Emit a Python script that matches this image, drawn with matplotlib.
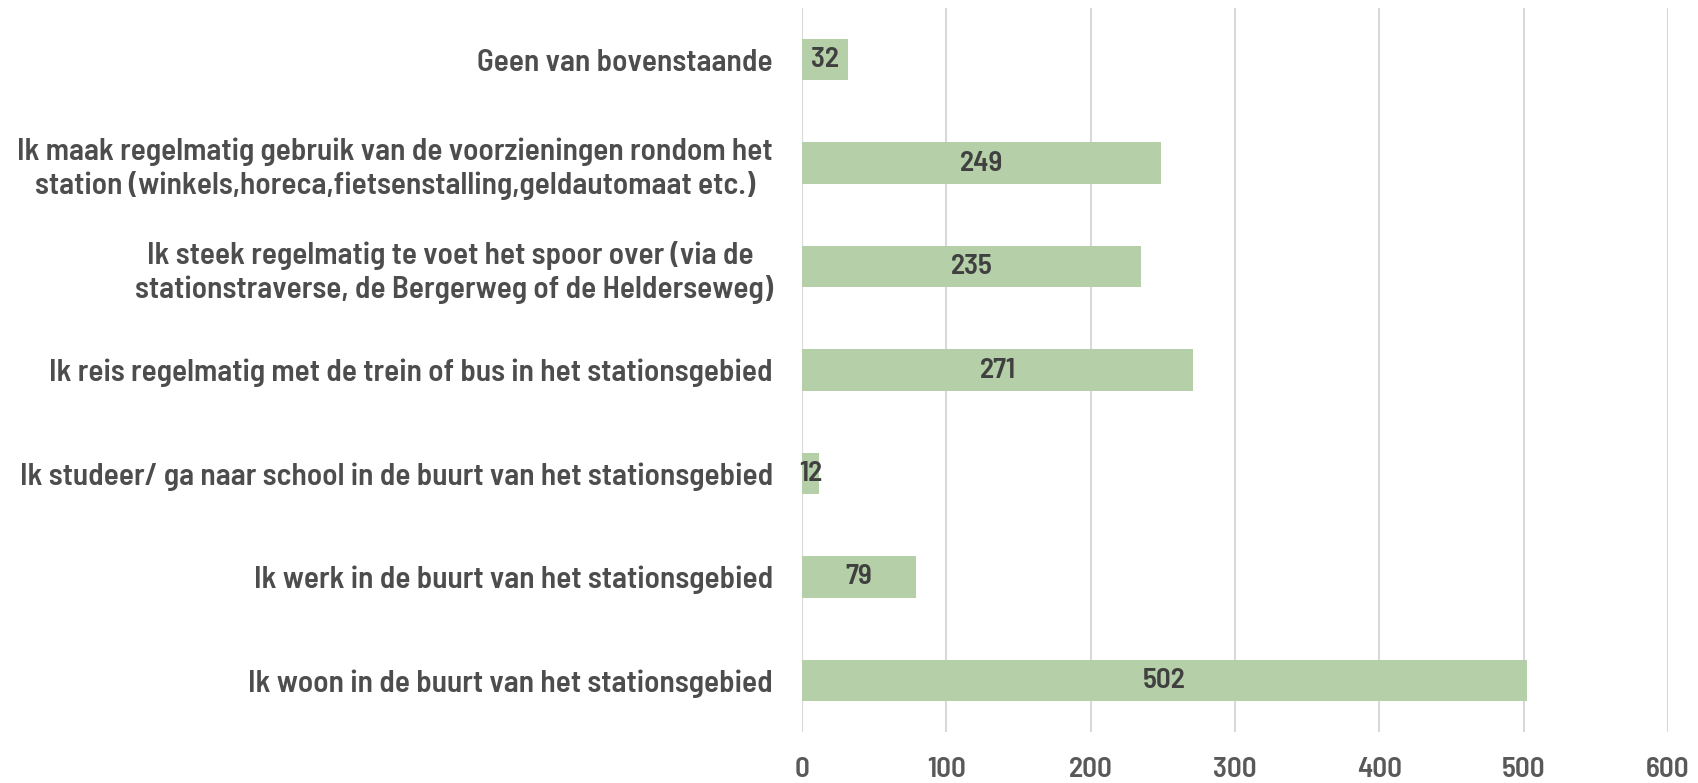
""" Horizontal bar chart: relatie met het stationsgebied """

import matplotlib
matplotlib.use('Agg')
import matplotlib.pyplot as plt


# -------------------------------------------------------------------------------
# DATA
# -------------------------------------------------------------------------------

categories = [
    'Geen van bovenstaande',
    'Ik maak regelmatig gebruik van de voorzieningen rondom het\n'
    'station (winkels,horeca,fietsenstalling,geldautomaat etc.)',
    'Ik steek regelmatig te voet het spoor over (via de \n'
    'stationstraverse, de Bergerweg of de Helderseweg)',
    'Ik reis regelmatig met de trein of bus in het stationsgebied',
    'Ik studeer/ ga naar school in de buurt van het stationsgebied',
    'Ik werk in de buurt van het stationsgebied',
    'Ik woon in de buurt van het stationsgebied',
]
values = [32, 249, 235, 271, 12, 79, 502]
xticks = [0, 100, 200, 300, 400, 500, 600]


# -------------------------------------------------------------------------------
# PLOT
# -------------------------------------------------------------------------------

plt.rcParams['font.family'] = ['Barlow Semi Condensed', 'Barlow Condensed', 'DejaVu Sans']

fig = plt.figure(figsize=(16.98, 7.83), dpi=100)
ax = fig.add_axes([0.4723, 0.0651, 0.9823 - 0.4723, 0.9898 - 0.0651])

pos = list(range(len(categories)))
bars = ax.barh(pos, values, height=0.4, color='#b5cfa8', zorder=2)

# value labels in the middle of each bar
for rect, v in zip(bars, values):
    ax.text(rect.get_x() + rect.get_width() / 2, rect.get_y() + rect.get_height() / 2,
            str(v), ha='center', va='center', fontsize=21, color='#404040',
            fontweight=600, zorder=3)

ax.set_ylim(len(categories) - 0.5, -0.5)
ax.set_xlim(0, 600)
ax.set_xticks(xticks)
ax.set_xticklabels([str(t) for t in xticks], fontsize=21, color='#595959', fontweight=600)
ax.set_yticks(pos)
ax.set_yticklabels(categories, fontsize=22.5, color='#4d4d4d', fontweight=600,
                   multialignment='center', linespacing=1.22)

ax.tick_params(axis='x', length=0, pad=18)
ax.tick_params(axis='y', length=0, pad=21)
ax.grid(axis='x', color='#d9d9d9', linewidth=1.5, zorder=0)
for s in ax.spines.values():
    s.set_visible(False)

fig.savefig('out.png', dpi=100, facecolor='white')
